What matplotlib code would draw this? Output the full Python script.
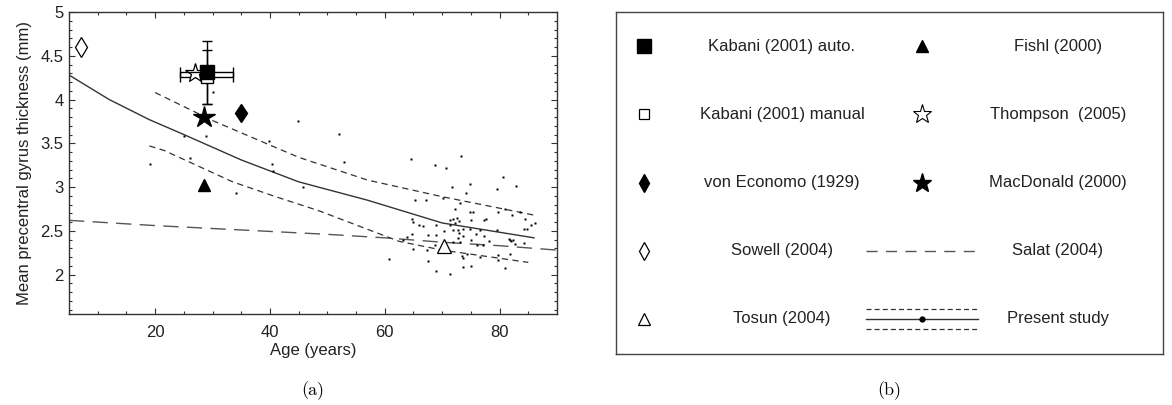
import numpy as np
import matplotlib
matplotlib.use('Agg')
import matplotlib.pyplot as plt

# ------------------------------------------------------------------
# Data
# ------------------------------------------------------------------
# individual subjects (age, thickness)
subj_age = [19.1, 25.0, 26.0, 28.9, 30.1, 34.1, 39.8, 40.4, 40.5, 44.9,
            45.8, 52.0, 52.9, 60.7, 64.6, 68.8, 70.6, 73.2, 80.6, 82.9,
            79.5, 74.8, 74.2, 71.7, 65.2, 67.1, 70.2, 72.2, 73.1, 74.8,
            75.4, 79.8, 81.0, 82.1, 83.6, 86.2, 85.5, 84.3, 64.7, 65.0,
            66.0, 66.7, 68.9, 71.3, 71.9, 72.6, 72.9, 72.3, 71.3, 71.8,
            72.8, 73.6, 72.9, 72.8, 73.6, 70.3, 69.0, 67.6, 63.9, 64.8,
            63.1, 65.0, 67.4, 68.8, 71.8, 73.1, 74.8, 75.1, 75.9, 76.6,
            77.2, 77.1, 76.1, 78.1, 79.5, 81.6, 81.8, 82.4, 82.0, 82.6,
            84.3, 73.5, 73.7, 74.4, 76.6, 79.8, 79.7, 81.8, 67.6, 68.9,
            71.4, 73.6, 75.0, 80.9, 75.1, 77.2, 77.7, 84.4, 84.7]
subj_thk = [3.26, 3.58, 3.33, 3.58, 4.09, 2.93, 3.53, 3.26, 3.18, 3.76,
            3.00, 3.61, 3.29, 2.18, 3.32, 3.25, 3.22, 3.36, 3.12, 3.01,
            2.98, 3.04, 2.93, 3.00, 2.85, 2.85, 2.88, 2.75, 2.82, 2.72,
            2.72, 2.71, 2.75, 2.68, 2.71, 2.59, 2.57, 2.52, 2.63, 2.60,
            2.57, 2.56, 2.57, 2.62, 2.64, 2.65, 2.61, 2.59, 2.57, 2.51,
            2.51, 2.52, 2.47, 2.42, 2.44, 2.50, 2.45, 2.45, 2.43, 2.46,
            2.39, 2.29, 2.28, 2.34, 2.37, 2.37, 2.52, 2.40, 2.46, 2.51,
            2.44, 2.34, 2.34, 2.38, 2.51, 2.41, 2.39, 2.39, 2.38, 2.35,
            2.36, 2.21, 2.19, 2.24, 2.20, 2.22, 2.17, 2.24, 2.15, 2.04,
            2.01, 2.09, 2.10, 2.08, 2.62, 2.62, 2.64, 2.64, 2.52]

# present study fit and confidence band
fit_age = [5, 12, 19, 25, 35, 45, 57, 70, 86]
fit_thk = [4.28, 4.00, 3.77, 3.60, 3.31, 3.06, 2.85, 2.59, 2.42]
upper_age = [20, 30, 45, 57, 70, 86]
upper_thk = [4.08, 3.76, 3.34, 3.08, 2.89, 2.68]
lower_age = [19, 21.5, 33.5, 41, 48.5, 62.5, 70, 85]
lower_thk = [3.47, 3.42, 3.06, 2.89, 2.73, 2.38, 2.28, 2.14]

# Salat (2004) regression
salat_age = [5, 20, 35, 50, 60, 70, 80, 90]
salat_thk = [2.62, 2.56, 2.51, 2.46, 2.42, 2.37, 2.33, 2.28]

# literature values
kabani_auto = (29.0, 4.31)
kabani_auto_err = (4.65, 0.36)
kabani_manual = (29.0, 4.26)
kabani_manual_err = (4.65, 0.31)
thompson = (27.0, 4.30)
macdonald = (28.5, 3.80)
economo = (34.9, 3.85)
fishl = (28.5, 3.02)
sowell = (7.1, 4.60)
tosun = (70.4, 2.33)

legend_left = ['Kabani (2001) auto.', 'Kabani (2001) manual',
               'von Economo (1929)', 'Sowell (2004)', 'Tosun (2004)']
legend_right = ['Fishl (2000)', 'Thompson  (2005)', 'MacDonald (2000)',
                'Salat (2004)', 'Present study']

# ------------------------------------------------------------------
W, H = 1172, 405
fig = plt.figure(figsize=(W / 100, H / 100), dpi=100)
sans = 'Liberation Sans'
txt = '#222222'
fs = 12

# ---------------- panel (a) ----------------
ax = fig.add_axes([69 / W, 1 - 314 / H, 488 / W, 302 / H])

ax.plot(salat_age, salat_thk, color='#555555', lw=1.0, dashes=(11, 6))
ax.plot(fit_age, fit_thk, color='#333333', lw=1.0)
ax.plot(upper_age, upper_thk, color='#333333', lw=0.9, dashes=(5, 3.5))
ax.plot(lower_age, lower_thk, color='#333333', lw=0.9, dashes=(5, 3.5))

ax.plot(subj_age, subj_thk, 's', ms=1.7, color='black', mec='none')

ax.errorbar(*kabani_manual, xerr=kabani_manual_err[0], yerr=kabani_manual_err[1],
            fmt='s', ms=8, mfc='white', mec='black', mew=1.0, ecolor='black',
            elinewidth=1.0, capsize=3.5, capthick=1.0)
ax.plot(*thompson, '*', ms=15, mfc='white', mec='black', mew=0.9)
ax.errorbar(*kabani_auto, xerr=kabani_auto_err[0], yerr=kabani_auto_err[1],
            fmt='s', ms=10.5, color='black', ecolor='black',
            elinewidth=1.0, capsize=3.5, capthick=1.0)
ax.plot(*macdonald, '*', ms=16, color='black')
ax.plot(*economo, 'd', ms=9.5, color='black')
ax.plot(*fishl, '^', ms=9, color='black')
ax.plot(*sowell, 'd', ms=10.5, mfc='white', mec='black', mew=0.9)
ax.plot(*tosun, '^', ms=10, mfc='white', mec='black', mew=0.9)

ax.set_xlim(5, 90)
ax.set_ylim(1.55, 5)
ax.set_xticks([20, 40, 60, 80])
ax.set_xticks(np.arange(5, 90, 5), minor=True)
ax.set_yticks([2, 2.5, 3, 3.5, 4, 4.5, 5])
ax.set_yticklabels(['2', '2.5', '3', '3.5', '4', '4.5', '5'])
ax.set_yticks(np.arange(1.6, 5.0, 0.1), minor=True)
ax.tick_params(which='both', direction='in', top=True, right=True,
               colors='#333333', labelcolor=txt, labelsize=fs, width=0.8)
ax.tick_params(which='major', length=4.5)
ax.tick_params(which='minor', length=2.5)
ax.tick_params(axis='x', which='major', pad=8)
ax.tick_params(axis='y', which='major', pad=4)
for lab in ax.get_xticklabels() + ax.get_yticklabels():
    lab.set_family(sans)
for sp in ax.spines.values():
    sp.set_color('#333333')
    sp.set_linewidth(1.0)
ax.set_xlabel('Age (years)', family=sans, fontsize=fs, color=txt, labelpad=2)
ax.set_ylabel('Mean precentral gyrus thickness (mm)', family=sans,
              fontsize=fs, color=txt, labelpad=6)

fig.text(313 / W, 1 - 391 / H, '(a)', family='cmr10', fontsize=13,
         ha='center', va='center')

# ---------------- panel (b): legend box ----------------
bw, bh = 547, 342
lax = fig.add_axes([616 / W, 1 - 354 / H, bw / W, bh / H])
lax.set_xlim(0, bw)
lax.set_ylim(bh, 0)
lax.set_xticks([])
lax.set_yticks([])
for sp in lax.spines.values():
    sp.set_color('#444444')
    sp.set_linewidth(1.0)

rows = [34, 102, 171, 239, 307]
mx1, tx1, l0, l1, mx2, tx2 = 28, 166, 250, 362, 306, 442

lax.plot(mx1, rows[0], 's', ms=10.5, color='black')
lax.plot(mx1, rows[1], 's', ms=7, mfc='white', mec='black', mew=0.9)
lax.plot(mx1, rows[2], 'd', ms=9, color='black')
lax.plot(mx1, rows[3], 'd', ms=9, mfc='white', mec='black', mew=0.9)
lax.plot(mx1, rows[4], '^', ms=8, mfc='white', mec='black', mew=0.9)

lax.plot(mx2, rows[0], '^', ms=8, color='black')
lax.plot(mx2, rows[1], '*', ms=14, mfc='white', mec='black', mew=0.8)
lax.plot(mx2, rows[2], '*', ms=14, color='black')
lax.plot([l0, l1], [rows[3], rows[3]], color='#555555', lw=1.0, dashes=(8, 6))
lax.plot([l0, l1], [rows[4] - 10, rows[4] - 10], color='#333333', lw=0.9,
         dashes=(4, 2.5))
lax.plot([l0, l1], [rows[4], rows[4]], color='#333333', lw=1.0)
lax.plot([l0, l1], [rows[4] + 10, rows[4] + 10], color='#333333', lw=0.9,
         dashes=(4, 2.5))
lax.plot(mx2, rows[4], 'o', ms=3.5, color='black')

for r, lab in zip(rows, legend_left):
    lax.text(tx1, r, lab, family=sans, fontsize=fs, color=txt,
             ha='center', va='center')
for r, lab in zip(rows, legend_right):
    lax.text(tx2, r, lab, family=sans, fontsize=fs, color=txt,
             ha='center', va='center')

fig.text(889 / W, 1 - 391 / H, '(b)', family='cmr10', fontsize=13,
         ha='center', va='center')

fig.savefig('out.png', dpi=100)
